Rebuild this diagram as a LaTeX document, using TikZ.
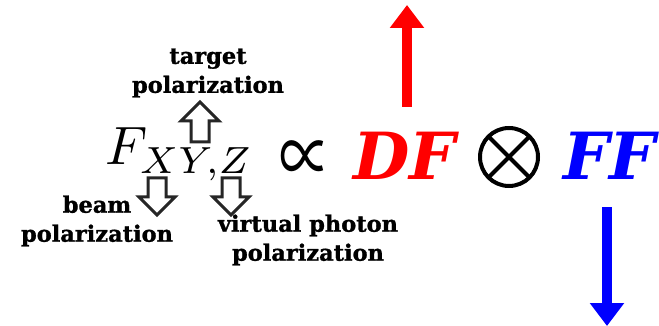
\documentclass[tikz,border=0pt]{standalone}
\usepackage{fontspec}
\setmainfont{Latin Modern Roman}
\newfontfamily\labfont[BoldFeatures={FakeBold=1.2}]{DejaVu Serif}
\newfontfamily\bigfont{DejaVu Serif}
\newfontfamily\symfont{Noto Sans CJK SC}
\usetikzlibrary{arrows.meta,calc}
\definecolor{dfred}{RGB}{255,0,0}
\definecolor{ffblue}{RGB}{0,0,255}
\tikzset{
  lab/.style={font=\labfont\bfseries\fontsize{22.5}{29}\selectfont, align=center, inner sep=0pt},
  big/.style={font=\bigfont\bfseries\itshape\fontsize{65}{65}\selectfont, inner sep=0pt},
  hollow/.style={draw=black!85, line width=3pt, line join=miter, fill=white},
  bigarrow/.style={line width=10pt, -{Triangle[length=23pt,width=33pt]}}
}
\begin{document}
\begin{tikzpicture}[x=1pt,y=-1pt]
\useasboundingbox (0,0) rectangle (659,326);
% main formula
\node[inner sep=0pt, anchor=base west, scale=5.4] (F) at (104,165) {$F_{XY,Z}$};
\node[inner sep=0pt, xscale=0.81, yscale=1.22, font=\symfont\fontsize{64}{64}\selectfont] (prop) at (305,163) {∝};
\node[big, text=dfred, anchor=base west] (DF) at (353,180) {DF};
\coordinate (otimes) at (509,157);
\draw[line width=4pt] (otimes) circle[radius=29];
\draw[line width=4pt] ($(otimes)+(-20.5,-20.5)$) -- ($(otimes)+(20.5,20.5)$);
\draw[line width=4pt] ($(otimes)+(-20.5,20.5)$) -- ($(otimes)+(20.5,-20.5)$);
\node[big, text=ffblue, anchor=base west] (FF) at (563,180) {FF};
% coloured arrows
\coordinate (redS) at (407,107);
\coordinate (redE) at (407,5);
\draw[bigarrow, dfred] (redS) -- (redE);
\coordinate (blueS) at (607,207);
\coordinate (blueE) at (607,326);
\draw[bigarrow, ffblue] (blueS) -- (blueE);
% hollow arrows
\coordinate (up) at (200,102);
\draw[hollow] (up) -- ++(19,19) -- ++(-10,0) -- ++(0,21) -- ++(-18,0) -- ++(0,-21) -- ++(-10,0) -- cycle;
\coordinate (dl) at (157,215);
\draw[hollow] (dl) -- ++(18,-18) -- ++(-9,0) -- ++(0,-19) -- ++(-18,0) -- ++(0,19) -- ++(-9,0) -- cycle;
\coordinate (dr) at (231,215);
\draw[hollow] (dr) -- ++(18,-18) -- ++(-9,0) -- ++(0,-19) -- ++(-18,0) -- ++(0,19) -- ++(-9,0) -- cycle;
% labels
\node[lab] (tgt) at (208,73) {target\\polarization};
\node[lab] (beam) at (97,221) {beam\\polarization};
\node[lab] (virt) at (308,240) {virtual photon\\polarization};
\end{tikzpicture}
\end{document}
